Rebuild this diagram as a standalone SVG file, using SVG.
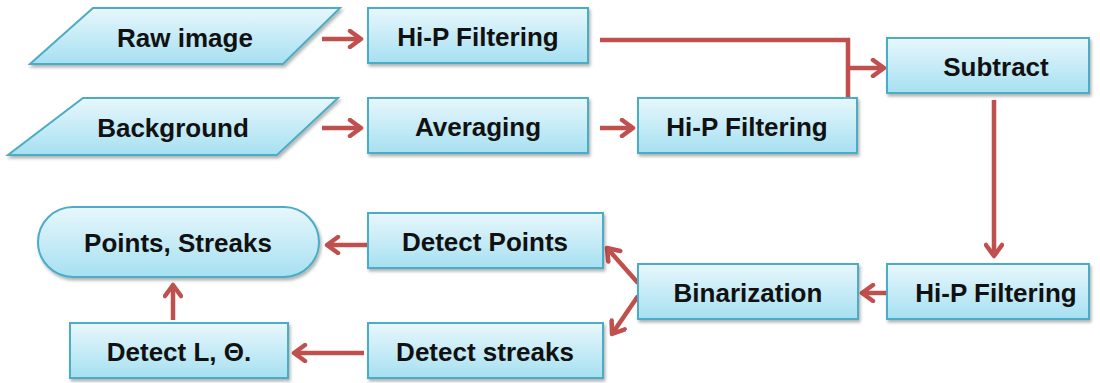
<svg xmlns="http://www.w3.org/2000/svg" width="1100" height="383" viewBox="0 0 1100 383">
<defs>
<linearGradient id="g" x1="0" y1="0" x2="0" y2="1">
<stop offset="0" stop-color="#e8f7fc"/>
<stop offset="1" stop-color="#a6e0f1"/>
</linearGradient>
<filter id="sh" x="-10%" y="-10%" width="120%" height="140%">
<feDropShadow dx="1.5" dy="2.5" stdDeviation="1.5" flood-color="#000" flood-opacity="0.3"/>
</filter>
<marker id="ah" markerUnits="userSpaceOnUse" markerWidth="20" markerHeight="20" viewBox="-14 -10 18 20" refX="0" refY="0" orient="auto">
<path d="M-11,-8 L0,0 L-11,8" fill="none" stroke="#c0504d" stroke-width="4.5" stroke-linecap="round" stroke-linejoin="round"/>
</marker>
<style>
.n{fill:url(#g);stroke:#4bacc6;stroke-width:2;filter:url(#sh)}
.t{font-family:"Liberation Sans",Arial,sans-serif;font-weight:bold;font-size:26px;fill:#111;text-anchor:middle;dominant-baseline:central}
.c{fill:none;stroke:#c0504d;stroke-width:4.5;stroke-linecap:butt}
.a{marker-end:url(#ah)}
</style>
</defs>
<g id="connectors">
<line class="c a" x1="322" y1="39" x2="361" y2="39"/>
<line class="c a" x1="322" y1="128" x2="361" y2="128"/>
<line class="c a" x1="600" y1="128" x2="633" y2="128"/>
<polyline class="c" points="600,40 848,40 848,98"/>
<line class="c a" x1="848" y1="68" x2="884" y2="68"/>
<line class="c a" x1="994" y1="100" x2="994" y2="256"/>
<line class="c a" x1="887" y1="293" x2="862" y2="293"/>
<line class="c a" x1="638" y1="283" x2="607" y2="248"/>
<line class="c a" x1="638" y1="296" x2="612" y2="334"/>
<line class="c a" x1="368" y1="245" x2="327" y2="245"/>
<line class="c a" x1="364" y1="353" x2="294" y2="353"/>
<line class="c a" x1="173" y1="320" x2="173" y2="285"/>
</g>
<g id="raw-image">
<polygon class="n" points="93,8 340,8 283,64 30,64"/>
<text class="t" x="185" y="38">Raw image</text>
</g>
<g id="background">
<polygon class="n" points="83,98 338,98 277,155 8,155"/>
<text class="t" x="173" y="128">Background</text>
</g>
<g id="hip1">
<rect class="n" x="368" y="8" width="220" height="55"/>
<text class="t" x="478" y="37">Hi-P Filtering</text>
</g>
<g id="averaging">
<rect class="n" x="368" y="98" width="220" height="55"/>
<text class="t" x="478" y="127">Averaging</text>
</g>
<g id="hip2">
<rect class="n" x="638" y="98" width="219" height="55"/>
<text class="t" x="747" y="127">Hi-P Filtering</text>
</g>
<g id="subtract">
<rect class="n" x="887" y="38" width="202" height="55"/>
<text class="t" x="996" y="67">Subtract</text>
</g>
<g id="hip3">
<rect class="n" x="887" y="264" width="202" height="55"/>
<text class="t" x="996" y="293">Hi-P Filtering</text>
</g>
<g id="binarization">
<rect class="n" x="638" y="264" width="220" height="55"/>
<text class="t" x="748" y="293">Binarization</text>
</g>
<g id="detect-points">
<rect class="n" x="368" y="213" width="235" height="55"/>
<text class="t" x="485" y="242">Detect Points</text>
</g>
<g id="detect-streaks">
<rect class="n" x="368" y="323" width="235" height="55"/>
<text class="t" x="485" y="352">Detect streaks</text>
</g>
<g id="points-streaks">
<rect class="n" x="38" y="207" width="281" height="70" rx="35" ry="35"/>
<text class="t" x="178" y="243">Points, Streaks</text>
</g>
<g id="detect-l">
<rect class="n" x="70" y="323" width="218" height="55"/>
<text class="t" x="179" y="352">Detect L, Θ.</text>
</g>
</svg>
